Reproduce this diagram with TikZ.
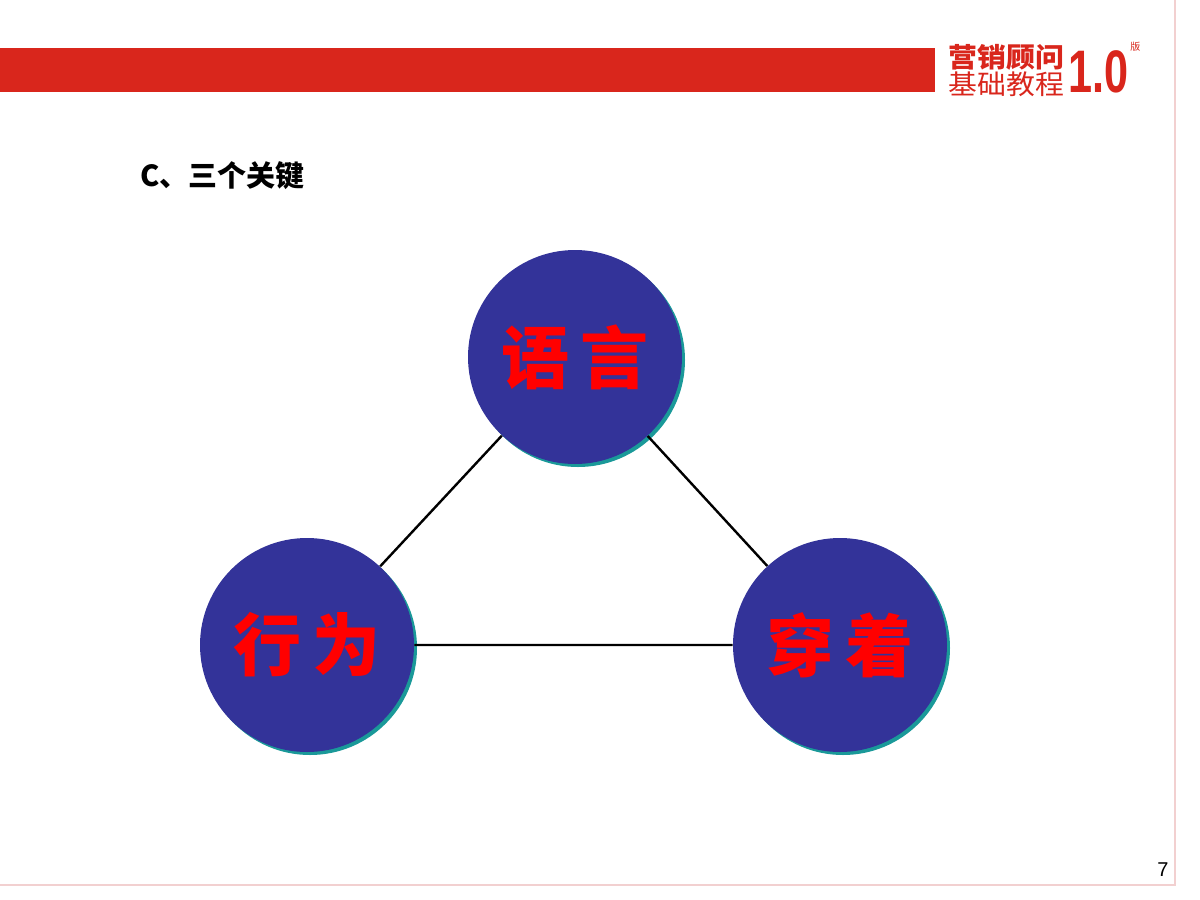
\documentclass[tikz,border=0pt]{standalone}
\usepackage{fontspec}
\setmainfont{Liberation Sans}
\newfontfamily\cjk{Noto Sans CJK SC}
\newfontfamily\cjkb{Noto Sans CJK SC Black}
\definecolor{barred}{HTML}{D9261C}
\definecolor{disc}{HTML}{333399}
\definecolor{shad}{HTML}{1A9999}
\definecolor{edge}{HTML}{F2D0D0}
\tikzset{px/.style={x=0.5pt,y=-0.5pt},
 keydisc/.style={circle,fill=disc,minimum size=107pt,inner sep=0pt,text=red,font=\cjkb\fontsize{34}{34}\selectfont},
 shadowdisc/.style={circle,fill=shad,minimum size=107pt,inner sep=0pt}}
\begin{document}
\begin{tikzpicture}[px]
\useasboundingbox (0,0) rectangle (1200,900);
\fill[white] (0,0) rectangle (1200,900);
\draw[edge,line width=0.6pt] (1175,0) -- (1175,885) -- (0,885);
\fill[barred] (0,48) rectangle (935,92);
\node[anchor=west,inner sep=0,text=barred,font=\cjk\bfseries\fontsize{13.5}{13.5}\selectfont,xscale=1.07] (l1) at (948,57) {营销顾问};
\node[anchor=west,inner sep=0,text=barred,font=\cjk\fontsize{13.5}{13.5}\selectfont,xscale=1.07] (l2) at (948,84) {基础教程};
\node[anchor=west,inner sep=0,text=barred,font=\bfseries\fontsize{30}{30}\selectfont,xscale=0.72] (l3) at (1068,72) {1.0};
\node[anchor=west,inner sep=0,text=barred,font=\cjk\fontsize{5}{5}\selectfont] (l4) at (1130,47) {版};
\node[anchor=west,inner sep=0,font=\cjk\bfseries\fontsize{14.5}{14.5}\selectfont] (title) at (140,176) {C、三个关键};
\node[anchor=center,inner sep=0,font=\fontsize{10}{10}\selectfont] (pg) at (1163,870) {7};
\node[shadowdisc] (st) at (578,360) {};
\node[shadowdisc] (sl) at (310,648) {};
\node[shadowdisc] (sr) at (843,648) {};
\node[keydisc] (t) at (575,357) {语\,言};
\node[keydisc] (l) at (307,645) {行\,为};
\node[keydisc] (r) at (840,645) {穿\,着};
\draw[line width=1.2pt] (t) -- (l) (t) -- (r) (l) -- (r);
\end{tikzpicture}
\end{document}
